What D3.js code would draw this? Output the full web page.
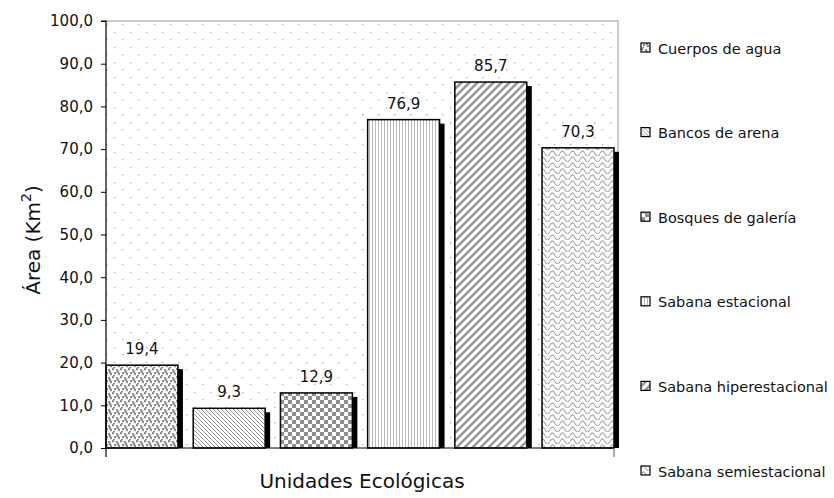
<!DOCTYPE html>
<html>
<head>
<meta charset="utf-8">
<script src="https://cdn.jsdelivr.net/npm/d3@7/dist/d3.min.js"></script>
<style>
  body { margin: 0; background: #fff; }
  svg { display: block; font-family: "DejaVu Sans", Verdana, sans-serif; }
</style>
</head>
<body>
<svg id="chart" width="834" height="498"></svg>
<script>
// Ecological units and their area (km²)
const categories = ["Cuerpos de agua", "Bancos de arena", "Bosques de galería",
                    "Sabana estacional", "Sabana hiperestacional", "Sabana semiestacional"];
const areas = [19.4, 9.3, 12.9, 76.9, 85.7, 70.3];
const yTicks = [0, 10, 20, 30, 40, 50, 60, 70, 80, 90, 100];
const patternIds = ["p-agua", "p-arena", "p-galeria", "p-estacional", "p-hiper", "p-semi"];

const svg = d3.select("#chart");
const plotLeft = 106, plotRight = 614, plotTop = 21, plotBottom = 448, frameRight = 618;

const locale = d3.formatLocale({ decimal: ",", thousands: ".", grouping: [3], currency: ["", ""] });
const fmt = locale.format(".1f");

const x = d3.scaleBand().domain(categories).range([plotLeft, plotRight])
  .paddingInner(0.175).paddingOuter(0);
const y = d3.scaleLinear().domain([0, 100]).range([plotBottom, plotTop]);

// ---- fill patterns ----
const defs = svg.append("defs");
function tile(id, w, h) {
  const p = defs.append("pattern").attr("id", id).attr("patternUnits", "userSpaceOnUse")
    .attr("width", w).attr("height", h);
  p.append("rect").attr("width", w).attr("height", h).attr("fill", "#fff");
  return p;
}

// plot background: sparse light dots
const bg = tile("p-bg", 16, 15);
[[2, 2], [10, 9]].forEach(([a, b]) =>
  bg.append("rect").attr("x", a).attr("y", b).attr("width", 1.3).attr("height", 1.3).attr("fill", "#aaa"));

// confetti squares
const pa = tile("p-agua", 8, 8);
[[0, 0], [4, 1], [2, 4], [6, 5], [1, 7], [5, 3]].forEach(([a, b]) =>
  pa.append("rect").attr("x", a).attr("y", b).attr("width", 2.2).attr("height", 2.2).attr("fill", "#8a8a8a"));

// thin backward diagonals
const pb = tile("p-arena", 4, 4);
pb.append("path").attr("d", "M-1,-1 L5,5 M-1,3 L1,5 M3,-1 L5,1")
  .attr("stroke", "#8a8a8a").attr("stroke-width", 0.9);

// checkerboard
const pc = tile("p-galeria", 8, 8);
pc.append("rect").attr("width", 4).attr("height", 4).attr("fill", "#8e8e8e");
pc.append("rect").attr("x", 4).attr("y", 4).attr("width", 4).attr("height", 4).attr("fill", "#8e8e8e");

// vertical hairlines
const pd = tile("p-estacional", 3, 4);
pd.append("rect").attr("width", 1).attr("height", 4).attr("fill", "#b8b8b8");

// wide forward diagonals
const pe = tile("p-hiper", 8, 8);
pe.append("path").attr("d", "M-2,2 L2,-2 M0,8 L8,0 M6,10 L10,6")
  .attr("stroke", "#969696").attr("stroke-width", 2.6);

// waves
const pf = tile("p-semi", 10, 6);
pf.append("path").attr("d", "M0,3.5 C2,0 3,0 5,3.5 C7,7 8,7 10,3.5")
  .attr("fill", "none").attr("stroke", "#a4a4a4").attr("stroke-width", 1.1);

// ---- plot area ----
svg.append("rect").attr("x", plotLeft).attr("y", plotTop)
  .attr("width", frameRight - plotLeft).attr("height", plotBottom - plotTop)
  .attr("fill", "url(#p-bg)");
svg.append("path").attr("d", `M${plotLeft},${plotTop} H${frameRight} V${plotBottom}`)
  .attr("fill", "none").attr("stroke", "#b8b8b8").attr("stroke-width", 1.5);

const data = categories.map((c, i) => ({ c, v: areas[i], pat: patternIds[i] }));

// drop shadows
svg.append("g").selectAll("rect").data(data).join("rect")
  .attr("x", d => x(d.c) + 5)
  .attr("y", d => y(d.v) + 4)
  .attr("width", x.bandwidth())
  .attr("height", d => plotBottom - y(d.v) - 4)
  .attr("fill", "#000");

// bars
svg.append("g").selectAll("rect").data(data).join("rect")
  .attr("x", d => x(d.c))
  .attr("y", d => y(d.v))
  .attr("width", x.bandwidth())
  .attr("height", d => plotBottom - y(d.v))
  .attr("fill", d => `url(#${d.pat})`)
  .attr("stroke", "#000").attr("stroke-width", 1.5);

// value labels
svg.append("g").selectAll("text").data(data).join("text")
  .attr("x", d => x(d.c) + x.bandwidth() / 2)
  .attr("y", d => y(d.v) - 11)
  .attr("text-anchor", "middle")
  .attr("font-size", 15).attr("fill", "#111")
  .text(d => fmt(d.v));

// y axis
const yAxis = d3.axisLeft(y).tickValues(yTicks).tickSize(5).tickPadding(8).tickFormat(fmt);
const gy = svg.append("g").attr("transform", `translate(${plotLeft},0)`).call(yAxis);
gy.select(".domain").attr("stroke", "#000").attr("stroke-width", 1.2).attr("d", `M-5,${plotTop}H0V${plotBottom}`);
gy.selectAll(".tick line").attr("stroke", "#000");
gy.selectAll(".tick text").attr("font-size", 15).attr("fill", "#111")
  .attr("font-family", "DejaVu Sans, Verdana, sans-serif");

// x axis: one category spanning the whole plot
svg.append("path")
  .attr("d", `M${plotLeft},${plotBottom} H${plotRight} M${plotLeft},${plotBottom} V${plotBottom + 9}`)
  .attr("stroke", "#000").attr("stroke-width", 1.2).attr("fill", "none");
svg.append("path").attr("d", `M${plotRight},${plotBottom} V${plotBottom + 9}`)
  .attr("stroke", "#777").attr("stroke-width", 1.2);

svg.append("text").attr("x", (plotLeft + plotRight) / 2 + 2).attr("y", 488)
  .attr("text-anchor", "middle").attr("font-size", 20).attr("fill", "#111")
  .text("Unidades Ecológicas");

// y title
const yt = svg.append("text").attr("transform", "translate(40,240) rotate(-90)")
  .attr("text-anchor", "middle").attr("font-size", 20).attr("fill", "#111");
yt.append("tspan").text("Área (Km");
yt.append("tspan").attr("font-size", 14).attr("dy", -9).text("2");
yt.append("tspan").attr("dy", 9).text(")");

// legend
const legY = d3.scalePoint().domain(categories).range([48, 471]);
const leg = svg.append("g").selectAll("g").data(data).join("g")
  .attr("transform", d => `translate(641,${legY(d.c)})`);
leg.append("rect").attr("x", 0).attr("y", -5).attr("width", 9).attr("height", 9)
  .attr("fill", d => `url(#${d.pat})`).attr("stroke", "#000").attr("stroke-width", 1.2);
leg.append("text").attr("x", 17).attr("y", 5.5).attr("font-size", 14.5).attr("fill", "#111")
  .text(d => d.c);
</script>
</body>
</html>
